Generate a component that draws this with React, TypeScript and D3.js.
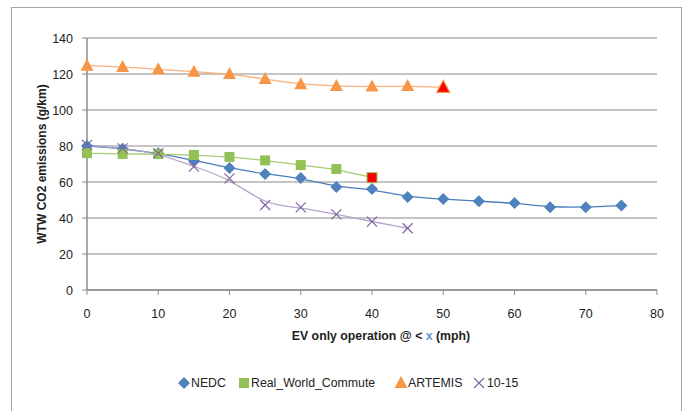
import React from "react";
import * as d3 from "d3";

// Speeds (mph) at which EV-only operation ends
const nedcX = [0, 5, 10, 15, 20, 25, 30, 35, 40, 45, 50, 55, 60, 65, 70, 75];
const nedcY = [80, 78.5, 76, 72, 67.8, 64.4, 62.2, 57.2, 56.1, 51.6, 50.5, 49.3, 48.4, 46, 46, 46.9];

const rwcX = [0, 5, 10, 15, 20, 25, 30, 35, 40];
const rwcY = [76, 75.6, 75.5, 75, 73.9, 72, 69.4, 67.2, 62.4];

const artX = [0, 5, 10, 15, 20, 25, 30, 35, 40, 45, 50];
const artY = [124.6, 123.9, 122.6, 121.3, 120, 117.2, 114.3, 113.3, 113, 113.3, 112.6];

const jpX = [0, 5, 10, 15, 20, 25, 30, 35, 40, 45];
const jpY = [80.6, 78.7, 76, 68.5, 62, 47.2, 45.9, 42, 38, 34.3];

const xTicks = [0, 10, 20, 30, 40, 50, 60, 70, 80];
const yTicks = [0, 20, 40, 60, 80, 100, 120, 140];

const W = 686;
const H = 411;
const left = 87;
const right = 657;
const top = 38;
const bottom = 290;

const FONT = "'Liberation Sans', Arial, sans-serif";

export default function App() {
  const x = d3.scaleLinear().domain([0, 80]).range([left, right]);
  const y = d3.scaleLinear().domain([0, 140]).range([bottom, top]);

  const line = d3
    .line<[number, number]>()
    .x((d) => x(d[0]))
    .y((d) => y(d[1]))
    .curve(d3.curveBasis);

  const pts = (xs: number[], ys: number[]) => xs.map((v, i) => [v, ys[i]] as [number, number]);

  const series = [
    { name: "NEDC", pts: pts(nedcX, nedcY), line: "#4a7ebb", fill: "#4f81bd", shape: "diamond" },
    { name: "Real_World_Commute", pts: pts(rwcX, rwcY), line: "#a9c873", fill: "#92c255", shape: "square" },
    { name: "ARTEMIS", pts: pts(artX, artY), line: "#f9b27d", fill: "#f79646", shape: "triangle" },
    { name: "10-15", pts: pts(jpX, jpY), line: "#b5a6cb", fill: "#8064a2", shape: "x" },
  ];

  const marker = (
    shape: string,
    cx: number,
    cy: number,
    fill: string,
    key: string | number,
    outline?: string
  ) => {
    if (shape === "diamond") {
      const r = 6;
      return (
        <path key={key} d={`M${cx},${cy - r}L${cx + r},${cy}L${cx},${cy + r}L${cx - r},${cy}Z`} fill={fill} />
      );
    }
    if (shape === "square") {
      const s = 10;
      return (
        <rect
          key={key}
          x={cx - s / 2}
          y={cy - s / 2}
          width={s}
          height={s}
          fill={fill}
          stroke={outline || "none"}
          strokeWidth={outline ? 1 : 0}
        />
      );
    }
    if (shape === "triangle") {
      const hw = 6.5;
      return (
        <path
          key={key}
          d={`M${cx},${cy - 7}L${cx + hw},${cy + 5}L${cx - hw},${cy + 5}Z`}
          fill={fill}
          stroke={outline || "none"}
          strokeWidth={outline ? 1.2 : 0}
        />
      );
    }
    const r = 5;
    return (
      <path
        key={key}
        d={`M${cx - r},${cy - r}L${cx + r},${cy + r}M${cx - r},${cy + r}L${cx + r},${cy - r}`}
        stroke={fill}
        strokeWidth={1.2}
        fill="none"
      />
    );
  };

  return (
    <svg
      width={W}
      height={H}
      style={{ position: "absolute", left: 0, top: 0, background: "#fff" }}
      fontFamily={FONT}
    >
      <rect x={11.5} y={7.5} width={670} height={420} fill="#fff" stroke="#a6a6a6" strokeWidth={1} />

      {/* horizontal gridlines */}
      {yTicks.map((t) => (
        <line key={"g" + t} x1={left} x2={right} y1={y(t)} y2={y(t)} stroke="#8c8c8c" strokeWidth={1.2} />
      ))}
      {/* y axis */}
      <line x1={left} x2={left} y1={top} y2={bottom} stroke="#8c8c8c" strokeWidth={1.5} />
      {yTicks.map((t) => (
        <g key={"yt" + t}>
          <line x1={left - 5} x2={left} y1={y(t)} y2={y(t)} stroke="#8c8c8c" />
          <text x={73} y={y(t) + 4.5} textAnchor="end" fontSize={12.5} fill="#222">
            {t}
          </text>
        </g>
      ))}
      {/* x axis */}
      <line x1={left} x2={right} y1={bottom} y2={bottom} stroke="#8c8c8c" strokeWidth={1.5} />
      {xTicks.map((t) => (
        <g key={"xt" + t}>
          <line x1={x(t)} x2={x(t)} y1={bottom} y2={bottom + 5} stroke="#8c8c8c" />
          <text x={x(t)} y={318} textAnchor="middle" fontSize={12.5} fill="#222">
            {t}
          </text>
        </g>
      ))}

      {/* trend lines */}
      {series.map((s) => (
        <path key={"l" + s.name} d={line(s.pts) || ""} fill="none" stroke={s.line} strokeWidth={1.3} />
      ))}
      {/* markers; the final point of two series is highlighted in red */}
      {series.map((s) =>
        s.pts.map((p, i) => {
          const last = (s.name === "Real_World_Commute" || s.name === "ARTEMIS") && i === s.pts.length - 1;
          return marker(
            s.shape,
            x(p[0]),
            y(p[1]),
            last ? "#ff0000" : s.fill,
            s.name + i,
            last ? s.fill : undefined
          );
        })
      )}

      {/* axis titles */}
      <text x={381} y={340} textAnchor="middle" fontSize={12.3} fontWeight="bold" fill="#222">
        EV only operation @ &lt; <tspan fill="#5b9bd5">x</tspan> (mph)
      </text>
      <text
        transform={`translate(46,164) rotate(-90)`}
        textAnchor="middle"
        fontSize={12}
        fontWeight="bold"
        fill="#222"
      >
        WTW CO2 emissions (g/km)
      </text>

      {/* legend */}
      <g fontSize={12.3} fill="#222">
        {marker("diamond", 184, 383, "#4f81bd", "lg0")}
        <text x={191} y={387}>NEDC</text>
        {marker("square", 244, 383, "#92c255", "lg1")}
        <text x={251} y={387}>Real_World_Commute</text>
        {marker("triangle", 401, 383, "#f79646", "lg2")}
        <text x={408} y={387}>ARTEMIS</text>
        {marker("x", 479, 383, "#8064a2", "lg3")}
        <text x={487} y={387}>10-15</text>
      </g>
    </svg>
  );
}
